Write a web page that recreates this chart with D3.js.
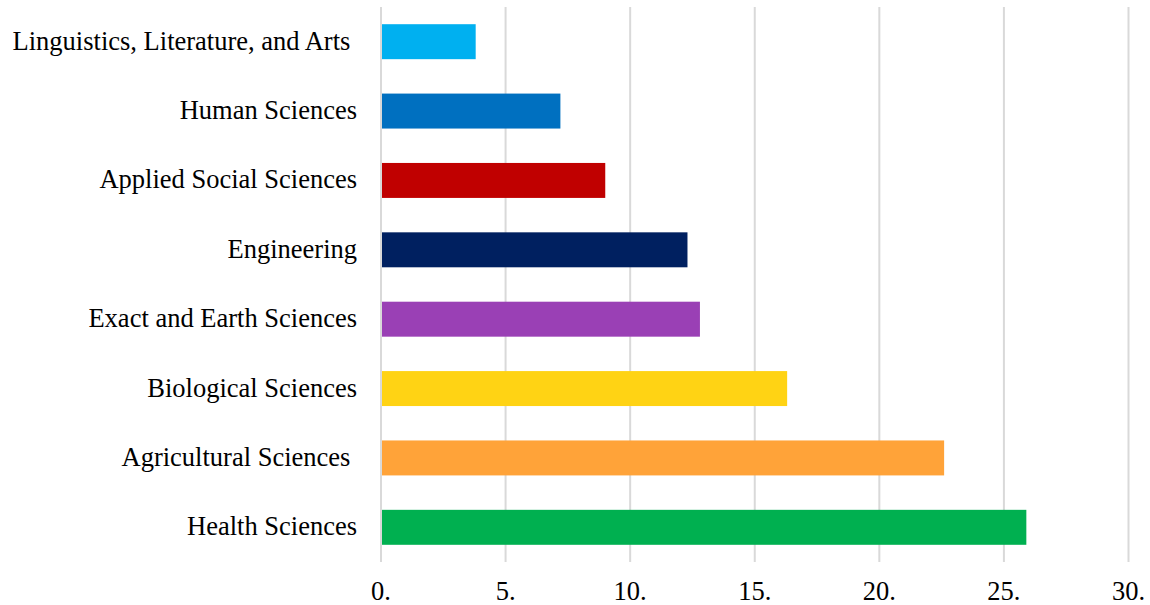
<!DOCTYPE html>
<html>
<head>
<meta charset="utf-8">
<script src="https://cdn.jsdelivr.net/npm/d3@7"></script>
<style>
  html, body { margin: 0; padding: 0; background: #fff; }
  svg { display: block; }
  text { font-family: "Liberation Serif", "Times New Roman", serif; fill: #000; }
</style>
</head>
<body>
<svg id="chart" width="1150" height="605"></svg>
<script>
// Fields of knowledge, top to bottom
const categories = [
  "Linguistics, Literature, and Arts ",
  "Human Sciences",
  "Applied Social Sciences",
  "Engineering",
  "Exact and Earth Sciences",
  "Biological Sciences",
  "Agricultural Sciences ",
  "Health Sciences"
];
const values = [3.8, 7.2, 9.0, 12.3, 12.8, 16.3, 22.6, 25.9];
const colors = ["#00B0F0", "#0070C0", "#C00000", "#002060", "#9A40B5", "#FFD314", "#FFA339", "#00B050"];
const tickValues = [0, 5, 10, 15, 20, 25, 30];
const tickLabels = ["0.", "5.", "10.", "15.", "20.", "25.", "30."];

const svg = d3.select("#chart");
const margin = { left: 381, right: 21.5, top: 7, bottom: 43 };
const W = 1150, H = 605;

const x = d3.scaleLinear().domain([0, 30]).range([margin.left, W - margin.right]);
const y = d3.scaleBand().domain(categories).range([margin.top, H - margin.bottom])
  .paddingInner(0.496).paddingOuter(0.248);

// vertical gridlines
svg.append("g")
  .selectAll("line")
  .data(tickValues)
  .join("line")
  .attr("x1", d => x(d)).attr("x2", d => x(d))
  .attr("y1", margin.top).attr("y2", H - margin.bottom)
  .attr("stroke", "#D9D9D9")
  .attr("stroke-width", 2);

// bars
svg.append("g")
  .selectAll("rect")
  .data(values)
  .join("rect")
  .attr("x", x(0) + 1)
  .attr("y", (d, i) => y(categories[i]))
  .attr("width", d => x(d) - x(0) - 1)
  .attr("height", y.bandwidth())
  .attr("fill", (d, i) => colors[i]);

// category labels
svg.append("g")
  .selectAll("text")
  .data(categories)
  .join("text")
  .attr("x", 357)
  .attr("y", d => y(d) + y.bandwidth() / 2)
  .attr("dy", "0.3em")
  .attr("text-anchor", "end")
  .style("white-space", "pre")
  .style("font-size", "26.5px")
  .text(d => d);

// x tick labels
svg.append("g")
  .selectAll("text")
  .data(tickValues)
  .join("text")
  .attr("x", d => x(d))
  .attr("y", 600)
  .attr("text-anchor", "middle")
  .style("font-size", "26.5px")
  .text((d, i) => tickLabels[i]);
</script>
</body>
</html>
